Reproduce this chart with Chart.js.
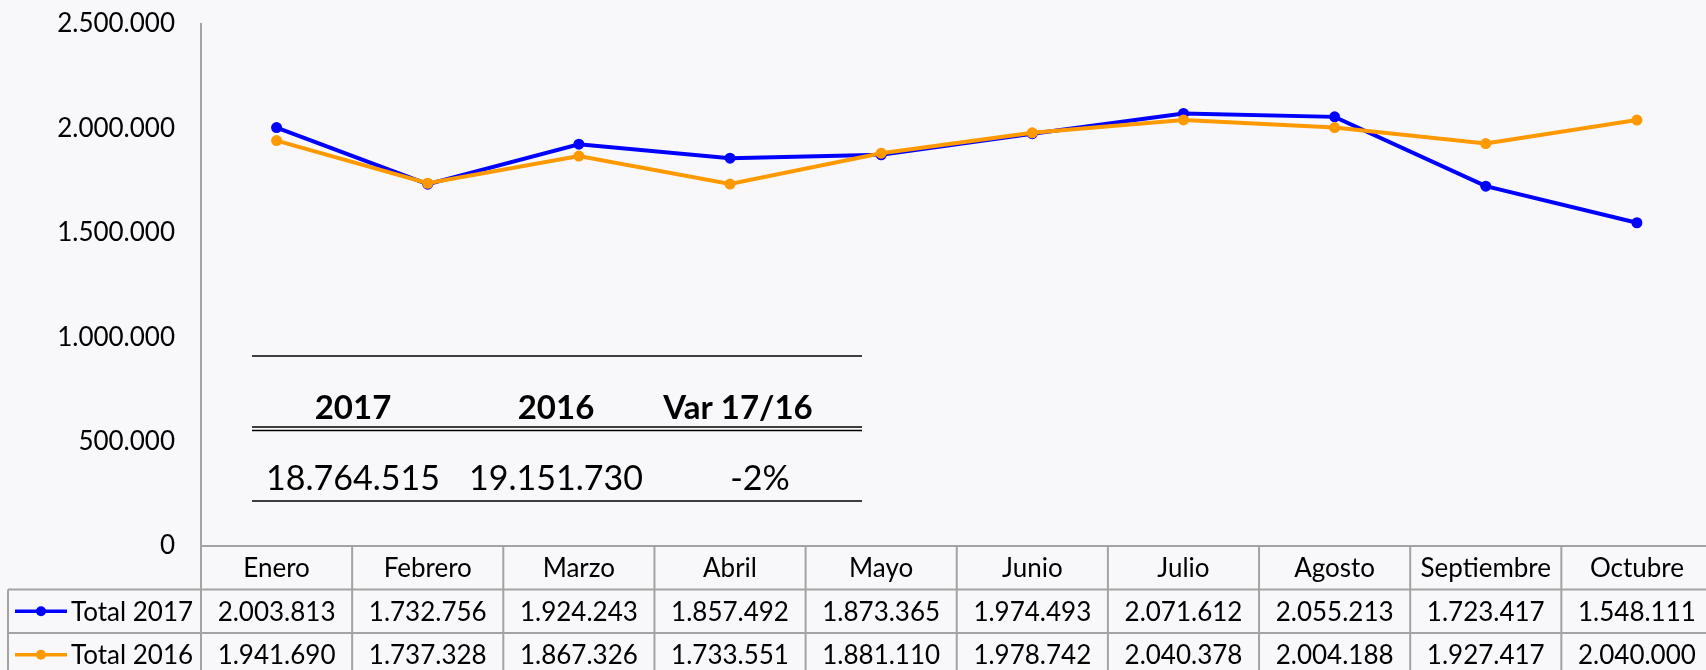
<!DOCTYPE html>
<html>
<head>
<meta charset="utf-8">
<script src="https://cdn.jsdelivr.net/npm/chart.js@4.4.1/dist/chart.umd.min.js"></script>
<style>
  html, body { margin: 0; padding: 0; background: #f8f8fa; overflow: hidden; }
  #wrap { width: 1718px; height: 670px; }
</style>
</head>
<body>
<div id="wrap"><canvas id="salesChart" width="1718" height="670"></canvas></div>
<script>
const months = ["Enero", "Febrero", "Marzo", "Abril", "Mayo", "Junio", "Julio", "Agosto", "Septiembre", "Octubre"];
const total2017 = [2003813, 1732756, 1924243, 1857492, 1873365, 1974493, 2071612, 2055213, 1723417, 1548111];
const total2016 = [1941690, 1737328, 1867326, 1733551, 1881110, 1978742, 2040378, 2004188, 1927417, 2040000];
const seriesNames = ["Total 2017", "Total 2016"];
const seriesColors = ["#0000ff", "#ff9900"];
const summaryHeaders = ["2017", "2016", "Var 17/16"];

const FONT = "Lato, 'Open Sans', sans-serif";
const GRID = "#a3a3a3";

// thousands with dots, like the spanish excel sheet
function fmt(n) {
  return Math.round(n).toString().replace(/\B(?=(\d{3})+(?!\d))/g, ".");
}

const sum2017 = total2017.reduce((a, b) => a + b, 0);
const sum2016 = total2016.reduce((a, b) => a + b, 0);
const summaryValues = [fmt(sum2017), fmt(sum2016), Math.round((sum2017 / sum2016 - 1) * 100) + "%"];

// data table under the plot + the little summary box
const tablePlugin = {
  id: "dataTable",
  afterDraw(chart) {
    const ctx = chart.ctx;
    const x = chart.scales.x;
    const area = chart.chartArea;
    const half = (x.getPixelForValue(1) - x.getPixelForValue(0)) / 2;
    const top = area.bottom;
    const rowH = 43.5;
    const rows = [top, top + rowH, top + 2 * rowH, top + 3 * rowH];
    const legendLeft = 8;

    ctx.save();
    ctx.strokeStyle = GRID;
    ctx.lineWidth = 2;

    // horizontal lines
    ctx.beginPath();
    for (let r = 1; r < rows.length; r++) {
      ctx.moveTo(legendLeft, rows[r]);
      ctx.lineTo(chart.width, rows[r]);
    }
    ctx.stroke();

    // vertical lines
    ctx.beginPath();
    ctx.moveTo(area.left, top);
    ctx.lineTo(area.left, rows[3]);
    ctx.moveTo(legendLeft, rows[1]);
    ctx.lineTo(legendLeft, rows[3]);
    months.forEach((m, i) => {
      const xr = x.getPixelForValue(i) + half;
      ctx.moveTo(xr, top);
      ctx.lineTo(xr, rows[3]);
    });
    ctx.stroke();

    // text
    ctx.fillStyle = "#000";
    ctx.font = "26px " + FONT;
    ctx.textAlign = "center";
    ctx.textBaseline = "middle";
    const series = [total2017, total2016];
    months.forEach((m, i) => {
      const cx = x.getPixelForValue(i);
      ctx.fillText(m, cx, (rows[0] + rows[1]) / 2 + 1);
      series.forEach((s, k) => {
        ctx.fillText(fmt(s[i]), cx, (rows[k + 1] + rows[k + 2]) / 2 + 1);
      });
    });

    // legend keys
    seriesNames.forEach((name, k) => {
      const cy = (rows[k + 1] + rows[k + 2]) / 2;
      ctx.strokeStyle = seriesColors[k];
      ctx.lineWidth = 3.5;
      ctx.beginPath();
      ctx.moveTo(15, cy);
      ctx.lineTo(67, cy);
      ctx.stroke();
      ctx.fillStyle = seriesColors[k];
      ctx.beginPath();
      ctx.arc(41, cy, 5, 0, Math.PI * 2);
      ctx.fill();
      ctx.fillStyle = "#000";
      ctx.textAlign = "left";
      ctx.fillText(name, 71, cy + 1);
    });

    // summary box inside the plot
    const boxL = area.left + 51, boxR = area.left + 661;
    const colCenters = [boxL + 101, boxL + 304, boxL + 508];
    ctx.strokeStyle = "#000";
    ctx.lineWidth = 1.5;
    ctx.beginPath();
    ctx.moveTo(boxL, 356); ctx.lineTo(boxR, 356);
    ctx.moveTo(boxL, 427); ctx.lineTo(boxR, 427);
    ctx.moveTo(boxL, 430.5); ctx.lineTo(boxR, 430.5);
    ctx.moveTo(boxL, 501); ctx.lineTo(boxR, 501);
    ctx.stroke();

    ctx.textAlign = "center";
    ctx.textBaseline = "alphabetic";
    ctx.font = "bold 33px " + FONT;
    summaryHeaders.forEach((h, i) => {
      ctx.fillText(h, i === 2 ? colCenters[i] - 22 : colCenters[i], 419);
    });
    ctx.font = "34px " + FONT;
    summaryValues.forEach((v, i) => {
      ctx.fillText(v, colCenters[i], 490);
    });
    ctx.restore();
  },
};

const ctx = document.getElementById("salesChart").getContext("2d");
new Chart(ctx, {
  type: "line",
  data: {
    labels: months,
    datasets: [
      {
        label: seriesNames[0],
        data: total2017,
        borderColor: seriesColors[0],
        backgroundColor: seriesColors[0],
        borderWidth: 4,
        pointRadius: 5.5,
        pointBorderWidth: 0,
        order: 1,
      },
      {
        label: seriesNames[1],
        data: total2016,
        borderColor: seriesColors[1],
        backgroundColor: seriesColors[1],
        borderWidth: 4,
        pointRadius: 5.5,
        pointBorderWidth: 0,
        order: 0,
      },
    ],
  },
  options: {
    responsive: false,
    animation: false,
    layout: { padding: { top: 24, right: 1, left: 0, bottom: 0 } },
    plugins: {
      legend: { display: false },
      tooltip: { enabled: false },
    },
    scales: {
      x: {
        offset: true,
        grid: { display: false, drawTicks: false },
        border: { display: true, color: GRID, width: 2 },
        ticks: { display: false },
        afterFit: function (scale) {
          scale.height = 124;
        },
      },
      y: {
        min: 0,
        max: 2500000,
        grid: { display: false, drawTicks: false },
        border: { display: true, color: GRID, width: 2 },
        ticks: {
          stepSize: 500000,
          padding: 26,
          color: "#000",
          font: { family: FONT, size: 26 },
          callback: (v) => fmt(v),
        },
        afterFit: function (scale) {
          scale.width = 201;
          scale.paddingTop = 0;
          scale.paddingBottom = 0;
        },
      },
    },
  },
  plugins: [tablePlugin],
});
</script>
</body>
</html>
